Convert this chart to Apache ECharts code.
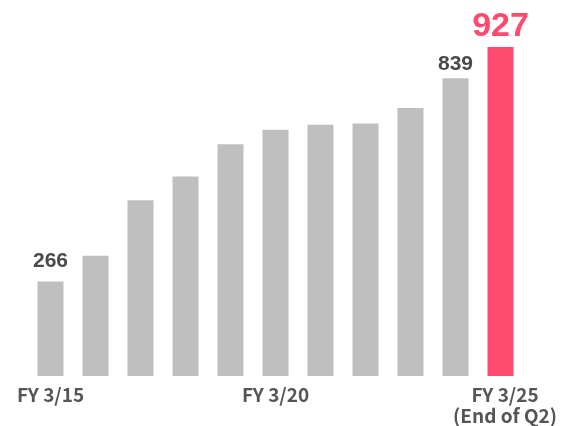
<!DOCTYPE html>
<html>
<head>
<meta charset="utf-8">
<script src="https://cdn.jsdelivr.net/npm/echarts@6/dist/echarts.min.js"></script>
<style>html,body{margin:0;padding:0;background:#fff}#c{width:570px;height:426px}</style>
</head>
<body>
<div id="c"></div>
<script>
const categories = ['FY 3/15','FY 3/16','FY 3/17','FY 3/18','FY 3/19','FY 3/20','FY 3/21','FY 3/22','FY 3/23','FY 3/24','FY 3/25'];
const values = [266, 339, 495, 562, 653, 694, 708, 711, 755, 839, 927];
const tickLabelIndex = [0, 5, 10];
const tickLabels = ['FY 3/15', 'FY 3/20', 'FY 3/25\n(End of Q2)'];
const valueLabelIndex = [0, 9, 10];

const GRAY = '#bfbfbf', PINK = '#ff4b6e', TEXT = '#4a4a4a', AXT = '#555555';
const chart = echarts.init(document.getElementById('c'), null, {renderer: 'canvas'});

const data = values.map((v, i) => {
  const last = i === values.length - 1;
  const item = { value: v, itemStyle: { color: last ? PINK : GRAY } };
  if (valueLabelIndex.includes(i)) {
    item.label = {
      show: true, position: 'top',
      distance: last ? 3 : (i === 0 ? 10 : 3),
      color: last ? PINK : TEXT,
      fontFamily: 'Liberation Sans, Arial, sans-serif',
      fontWeight: 'bold',
      fontSize: last ? 34 : 21
    };
  } else {
    item.label = { show: false };
  }
  return item;
});

const axFont = { fontFamily: 'Noto Sans CJK JP, sans-serif', fontWeight: 'bold', fontSize: 19, lineHeight: 21, color: AXT };

chart.setOption({
  animation: false,
  grid: { left: 28, right: 47, top: 21, bottom: 50, containLabel: false },
  xAxis: {
    type: 'category',
    data: categories,
    axisLine: { show: false },
    axisTick: { show: false },
    axisLabel: Object.assign({
      interval: (idx) => tickLabelIndex.includes(idx),
      margin: 8,
      formatter: (val, idx) => {
        const k = tickLabelIndex.indexOf(idx);
        if (k < 0) return '';
        if (k === tickLabels.length - 1) {
          return tickLabels[k].split('\n').map(s => '{s|' + s + '}').join('\n');
        }
        return tickLabels[k];
      },
      rich: { s: Object.assign({ padding: [0, 0, 0, 9] }, axFont) }
    }, axFont)
  },
  yAxis: { type: 'value', min: 0, max: 1000, show: false, splitLine: { show: false } },
  series: [{
    type: 'bar',
    data: data,
    barWidth: 26
  }]
});
</script>
</body>
</html>
